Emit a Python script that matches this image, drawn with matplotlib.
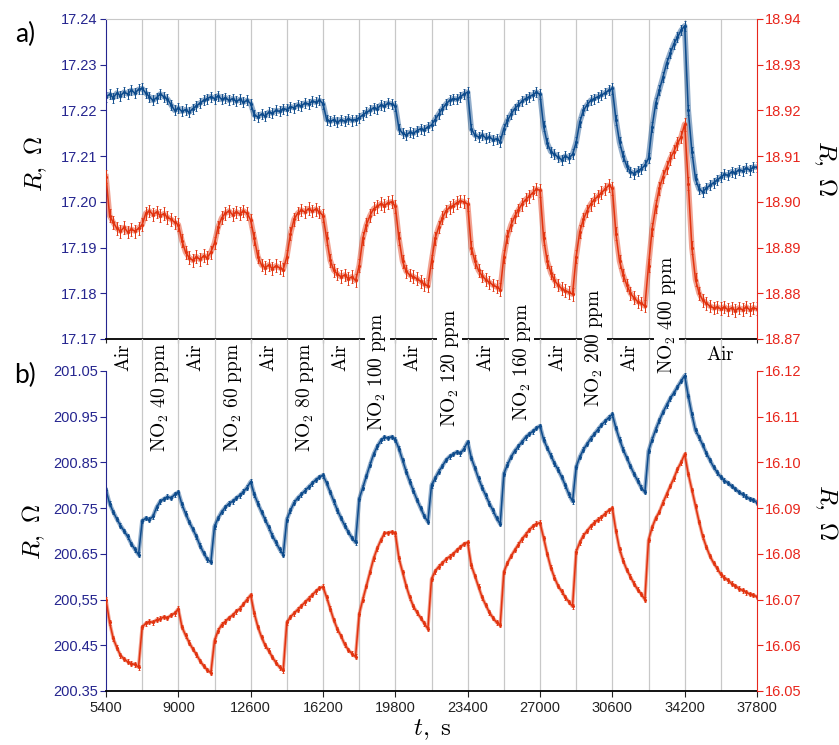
import numpy as np
import matplotlib
matplotlib.use('Agg')
import matplotlib.pyplot as plt
from matplotlib.transforms import blended_transform_factory

plt.rcParams['font.family'] = ['Liberation Sans', 'DejaVu Sans']
plt.rcParams['mathtext.fontset'] = 'cm'

# time axis, s (one reading every 180 s)
t = np.arange(5400, 37801, 180)

# panel a) left axis (blue), Ohm
a_blue = [
    17.2230, 17.2235, 17.2228, 17.2238, 17.2232, 17.2240, 17.2236, 17.2244, 17.2238, 17.2246,
    17.2248, 17.2238, 17.2230, 17.2222, 17.2228, 17.2236, 17.2230, 17.2225, 17.2212, 17.2200,
    17.2205, 17.2198, 17.2202, 17.2196, 17.2204, 17.2210, 17.2216, 17.2222, 17.2226, 17.2230,
    17.2226, 17.2232, 17.2224, 17.2228, 17.2222, 17.2226, 17.2220, 17.2224, 17.2218, 17.2222,
    17.2215, 17.2190, 17.2186, 17.2192, 17.2188, 17.2196, 17.2194, 17.2200, 17.2198, 17.2204,
    17.2202, 17.2208, 17.2206, 17.2212, 17.2210, 17.2216, 17.2214, 17.2220, 17.2218, 17.2222,
    17.2215, 17.2180, 17.2176, 17.2180, 17.2174, 17.2180, 17.2176, 17.2182, 17.2178, 17.2180,
    17.2184, 17.2190, 17.2196, 17.2200, 17.2206, 17.2204, 17.2212, 17.2210, 17.2216, 17.2214,
    17.2210, 17.2160, 17.2150, 17.2146, 17.2152, 17.2150, 17.2156, 17.2160, 17.2158, 17.2164,
    17.2168, 17.2180, 17.2192, 17.2204, 17.2214, 17.2222, 17.2226, 17.2224, 17.2230, 17.2236,
    17.2240, 17.2160, 17.2146, 17.2142, 17.2146, 17.2140, 17.2142, 17.2136, 17.2138, 17.2132,
    17.2160, 17.2178, 17.2192, 17.2204, 17.2212, 17.2220, 17.2226, 17.2230, 17.2234, 17.2240,
    17.2235, 17.2165, 17.2128, 17.2110, 17.2104, 17.2098, 17.2092, 17.2100, 17.2096, 17.2104,
    17.2130, 17.2175, 17.2200, 17.2212, 17.2222, 17.2226, 17.2230, 17.2234, 17.2238, 17.2244,
    17.2248, 17.2180, 17.2130, 17.2100, 17.2078, 17.2066, 17.2062, 17.2068, 17.2072, 17.2080,
    17.2095, 17.2164, 17.2216, 17.2245, 17.2273, 17.2303, 17.2325, 17.2345, 17.2360, 17.2375,
    17.2385, 17.2200, 17.2110, 17.2050, 17.2028, 17.2022, 17.2030, 17.2036, 17.2042, 17.2048,
    17.2054, 17.2060, 17.2058, 17.2066, 17.2064, 17.2070, 17.2068, 17.2074, 17.2070, 17.2076,
    17.2076,
]

# panel a) right axis (red), Ohm
a_red = [
    18.9055, 18.8970, 18.8955, 18.8942, 18.8936, 18.8944, 18.8934, 18.8940, 18.8936, 18.8942,
    18.8950, 18.8975, 18.8980, 18.8972, 18.8978, 18.8970, 18.8974, 18.8966, 18.8962, 18.8955,
    18.8950, 18.8915, 18.8890, 18.8878, 18.8872, 18.8880, 18.8874, 18.8882, 18.8878, 18.8890,
    18.8910, 18.8945, 18.8965, 18.8975, 18.8980, 18.8972, 18.8978, 18.8974, 18.8980, 18.8975,
    18.8960, 18.8920, 18.8880, 18.8862, 18.8856, 18.8862, 18.8854, 18.8860, 18.8856, 18.8852,
    18.8880, 18.8930, 18.8962, 18.8975, 18.8982, 18.8978, 18.8985, 18.8980, 18.8984, 18.8978,
    18.8970, 18.8920, 18.8872, 18.8850, 18.8842, 18.8836, 18.8840, 18.8832, 18.8836, 18.8828,
    18.8860, 18.8920, 18.8950, 18.8970, 18.8985, 18.8990, 18.8996, 18.8992, 18.8998, 18.9000,
    18.8990, 18.8920, 18.8870, 18.8848, 18.8840, 18.8836, 18.8832, 18.8826, 18.8820, 18.8816,
    18.8870, 18.8920, 18.8945, 18.8965, 18.8980, 18.8988, 18.8992, 18.8998, 18.9002, 18.9000,
    18.8995, 18.8900, 18.8870, 18.8850, 18.8838, 18.8830, 18.8824, 18.8818, 18.8814, 18.8808,
    18.8880, 18.8925, 18.8950, 18.8968, 18.8982, 18.8995, 18.9005, 18.9012, 18.9020, 18.9028,
    18.9025, 18.8920, 18.8870, 18.8845, 18.8828, 18.8818, 18.8810, 18.8806, 18.8802, 18.8798,
    18.8880, 18.8935, 18.8962, 18.8980, 18.8995, 18.9005, 18.9012, 18.9020, 18.9028, 18.9036,
    18.9030, 18.8930, 18.8870, 18.8840, 18.8818, 18.8800, 18.8790, 18.8782, 18.8778, 18.8772,
    18.8860, 18.8940, 18.8990, 18.9030, 18.9055, 18.9075, 18.9095, 18.9110, 18.9128, 18.9142,
    18.9170, 18.9040, 18.8900, 18.8830, 18.8800, 18.8785, 18.8778, 18.8772, 18.8768, 18.8770,
    18.8766, 18.8770, 18.8764, 18.8768, 18.8762, 18.8768, 18.8764, 18.8770, 18.8764, 18.8768,
    18.8766,
]

# panel b) left axis (blue), Ohm
b_blue = [
    200.790, 200.760, 200.742, 200.726, 200.712, 200.700, 200.688, 200.672, 200.660, 200.648,
    200.722, 200.728, 200.725, 200.732, 200.752, 200.765, 200.770, 200.775, 200.772, 200.780,
    200.785, 200.758, 200.738, 200.720, 200.704, 200.688, 200.668, 200.652, 200.638, 200.632,
    200.710, 200.728, 200.742, 200.752, 200.760, 200.765, 200.772, 200.778, 200.786, 200.795,
    200.808, 200.780, 200.760, 200.742, 200.725, 200.708, 200.690, 200.675, 200.660, 200.648,
    200.725, 200.745, 200.762, 200.772, 200.780, 200.788, 200.796, 200.804, 200.812, 200.818,
    200.822, 200.805, 200.785, 200.765, 200.745, 200.728, 200.712, 200.698, 200.685, 200.675,
    200.770, 200.795, 200.820, 200.845, 200.868, 200.885, 200.898, 200.905, 200.903, 200.906,
    200.900, 200.880, 200.855, 200.830, 200.808, 200.788, 200.768, 200.750, 200.733, 200.720,
    200.800, 200.815, 200.830, 200.842, 200.855, 200.863, 200.868, 200.873, 200.870, 200.880,
    200.895, 200.860, 200.838, 200.815, 200.795, 200.778, 200.760, 200.745, 200.728, 200.715,
    200.825, 200.845, 200.862, 200.875, 200.885, 200.895, 200.905, 200.912, 200.918, 200.925,
    200.930, 200.900, 200.882, 200.865, 200.848, 200.834, 200.818, 200.800, 200.780, 200.765,
    200.840, 200.862, 200.878, 200.890, 200.902, 200.912, 200.922, 200.932, 200.940, 200.948,
    200.955, 200.925, 200.900, 200.878, 200.860, 200.842, 200.825, 200.810, 200.795, 200.785,
    200.875, 200.900, 200.922, 200.942, 200.960, 200.975, 200.990, 201.002, 201.015, 201.028,
    201.040, 200.995, 200.955, 200.920, 200.905, 200.888, 200.870, 200.855, 200.840, 200.828,
    200.818, 200.810, 200.805, 200.798, 200.792, 200.785, 200.780, 200.775, 200.770, 200.768,
    200.762,
]

# panel b) right axis (red), Ohm
b_red = [
    16.0700, 16.0650, 16.0615, 16.0595, 16.0578, 16.0570, 16.0564, 16.0560, 16.0558, 16.0552,
    16.0640, 16.0648, 16.0652, 16.0650, 16.0656, 16.0658, 16.0662, 16.0660, 16.0666, 16.0670,
    16.0680, 16.0640, 16.0622, 16.0606, 16.0592, 16.0580, 16.0566, 16.0555, 16.0546, 16.0540,
    16.0610, 16.0632, 16.0645, 16.0652, 16.0660, 16.0666, 16.0674, 16.0680, 16.0690, 16.0700,
    16.0710, 16.0670, 16.0640, 16.0618, 16.0600, 16.0588, 16.0574, 16.0562, 16.0552, 16.0545,
    16.0650, 16.0662, 16.0670, 16.0678, 16.0686, 16.0694, 16.0702, 16.0710, 16.0718, 16.0725,
    16.0728, 16.0705, 16.0680, 16.0655, 16.0635, 16.0620, 16.0602, 16.0590, 16.0582, 16.0575,
    16.0668, 16.0700, 16.0730, 16.0760, 16.0790, 16.0812, 16.0830, 16.0845, 16.0846, 16.0848,
    16.0845, 16.0790, 16.0760, 16.0730, 16.0705, 16.0685, 16.0672, 16.0660, 16.0648, 16.0636,
    16.0745, 16.0762, 16.0772, 16.0780, 16.0788, 16.0794, 16.0800, 16.0808, 16.0815, 16.0822,
    16.0825, 16.0775, 16.0752, 16.0728, 16.0705, 16.0688, 16.0672, 16.0660, 16.0650, 16.0644,
    16.0760, 16.0780, 16.0795, 16.0808, 16.0820, 16.0832, 16.0842, 16.0852, 16.0860, 16.0866,
    16.0868, 16.0835, 16.0800, 16.0770, 16.0748, 16.0730, 16.0718, 16.0705, 16.0695, 16.0685,
    16.0805, 16.0825, 16.0840, 16.0850, 16.0860, 16.0868, 16.0875, 16.0880, 16.0888, 16.0895,
    16.0900, 16.0850, 16.0810, 16.0785, 16.0765, 16.0750, 16.0735, 16.0722, 16.0712, 16.0700,
    16.0830, 16.0858, 16.0878, 16.0892, 16.0912, 16.0930, 16.0948, 16.0965, 16.0985, 16.1000,
    16.1018, 16.0975, 16.0940, 16.0905, 16.0870, 16.0838, 16.0815, 16.0795, 16.0780, 16.0768,
    16.0755, 16.0748, 16.0742, 16.0735, 16.0730, 16.0724, 16.0720, 16.0716, 16.0712, 16.0710,
    16.0706,
]

# gas switching times and stage names
switch_times = list(range(7200, 36001, 1800))
stage_centers = list(range(6300, 34201, 1800))
stage_names = ['Air', 'NO_2\\ 40\\ ppm', 'Air', 'NO_2\\ 60\\ ppm', 'Air', 'NO_2\\ 80\\ ppm',
               'Air', 'NO_2\\ 100\\ ppm', 'Air', 'NO_2\\ 120\\ ppm', 'Air', 'NO_2\\ 160\\ ppm',
               'Air', 'NO_2\\ 200\\ ppm', 'Air', 'NO_2\\ 400\\ ppm']

xticks = list(range(5400, 37801, 3600))
a_left_ticks = [17.17, 17.18, 17.19, 17.20, 17.21, 17.22, 17.23, 17.24]
a_right_ticks = [18.87, 18.88, 18.89, 18.90, 18.91, 18.92, 18.93, 18.94]
b_left_ticks = [200.35, 200.45, 200.55, 200.65, 200.75, 200.85, 200.95, 201.05]
b_left_labels = ['200.35', '200.45', '200,55', '200.65', '200.75', '200.85', '200.95', '201.05']
b_right_ticks = [16.05, 16.06, 16.07, 16.08, 16.09, 16.10, 16.11, 16.12]

NAVY = '#25258f'
RED = '#e8261c'
C_BLUE = '#0d4b8c'
C_RED = '#e2330f'
GRID = '#c8c8c8'

W, H = 839, 745
fig = plt.figure(figsize=(W / 100, H / 100), dpi=100)


def fx(px):
    return px / W


def fy(py):
    return 1 - py / H


left, right = fx(106), fx(757)
ax_a = fig.add_axes([left, fy(339), right - left, fy(19) - fy(339)])
ax_a2 = ax_a.twinx()
ax_b = fig.add_axes([left, fy(691), right - left, fy(371) - fy(691)])
ax_b2 = ax_b.twinx()
ax_band = fig.add_axes([left, fy(371), right - left, fy(339) - fy(371)])

for ax in (ax_a, ax_b, ax_band):
    ax.set_xlim(5400, 37800)
    for s in switch_times:
        ax.axvline(s, color=GRID, lw=0.9, zorder=0)
ax_band.axis('off')
ax_band.set_ylim(0, 1)

ax_a.set_ylim(17.17, 17.24)
ax_a2.set_ylim(18.87, 18.94)
ax_b.set_ylim(200.35, 201.05)
ax_b2.set_ylim(16.05, 16.12)

# noisy traces: a dark band plus the dotted line with short whiskers
for ax, vals, col, band, err in ((ax_a, a_blue, C_BLUE, 4, 0.0011), (ax_a2, a_red, C_RED, 4, 0.0014),
                                 (ax_b, b_blue, C_BLUE, 3, 0.005), (ax_b2, b_red, C_RED, 2.5, 0.0005)):
    ax.plot(t, vals, color=col, lw=band, alpha=0.45, solid_joinstyle='round')
    ax.errorbar(t, vals, yerr=err, color=col, lw=1.1, marker='.', ms=2.5,
                elinewidth=0.7, capsize=1, capthick=0.6)

# axis styling
for ax, ax2, lt, rt in ((ax_a, ax_a2, a_left_ticks, a_right_ticks),
                        (ax_b, ax_b2, b_left_ticks, b_right_ticks)):
    ax.set_xticks(xticks)
    ax.set_yticks(lt)
    ax2.set_yticks(rt)
    ax.spines['right'].set_visible(False)
    ax.spines['left'].set_color(NAVY)
    ax.spines['bottom'].set_color('black')
    ax.spines['bottom'].set_linewidth(1.3)
    for side in ('left', 'top', 'bottom'):
        ax2.spines[side].set_visible(False)
    ax2.spines['right'].set_color(RED)
    ax.tick_params(axis='y', colors=NAVY, labelsize=10.5, length=4, pad=2)
    ax2.tick_params(axis='y', colors=RED, labelsize=10.5, length=4, pad=2)
    ax.tick_params(axis='x', labelsize=10.5, length=4, colors='#222222')

ax_a.spines['top'].set_color(GRID)
ax_a.tick_params(axis='x', labelbottom=False, length=3)
ax_a.yaxis.set_major_formatter(plt.FormatStrFormatter('%.2f'))
ax_a2.yaxis.set_major_formatter(plt.FormatStrFormatter('%.2f'))
ax_b2.yaxis.set_major_formatter(plt.FormatStrFormatter('%.2f'))
ax_b.set_yticklabels(b_left_labels)
ax_b.spines['top'].set_visible(False)

# stage labels between the panels
tr = blended_transform_factory(ax_band.transData, fig.transFigure)
label_tops = [343, 343, 343, 343, 343, 343, 343, 312, 343, 308, 343, 302, 343, 288, 343, 255]
for xc, name, top in zip(stage_centers, stage_names, label_tops):
    ax_band.text(xc, fy(top), '$\\mathrm{' + name + '}$', transform=tr, rotation=90,
                 ha='center', va='top', fontsize=14, clip_on=False, zorder=10,
                 bbox=dict(boxstyle='square,pad=0.08', fc='white', ec='none'))
ax_band.text(36000, fy(355), '$\\mathrm{Air}$', transform=tr, ha='center', va='center',
             fontsize=14, clip_on=False, zorder=10)

# axis titles
fig.text(fx(36), fy(164), '$R,\\ \\Omega$', rotation=90, ha='center', va='center', fontsize=18)
fig.text(fx(34), fy(532), '$R,\\ \\Omega$', rotation=90, ha='center', va='center', fontsize=18)
fig.text(fx(825), fy(168), '$R,\\ \\Omega$', rotation=270, ha='center', va='center', fontsize=18)
fig.text(fx(826), fy(512), '$R,\\ \\Omega$', rotation=270, ha='center', va='center', fontsize=18)
fig.text(fx(432), fy(730), '$t,\\ \\mathrm{s}$', ha='center', va='center', fontsize=18)
fig.text(fx(25), fy(34), 'a)', ha='center', va='center', fontsize=19, family=['Lato', 'DejaVu Sans'])
fig.text(fx(25), fy(375), 'b)', ha='center', va='center', fontsize=19, family=['Lato', 'DejaVu Sans'])

fig.savefig('out.png', dpi=100)
